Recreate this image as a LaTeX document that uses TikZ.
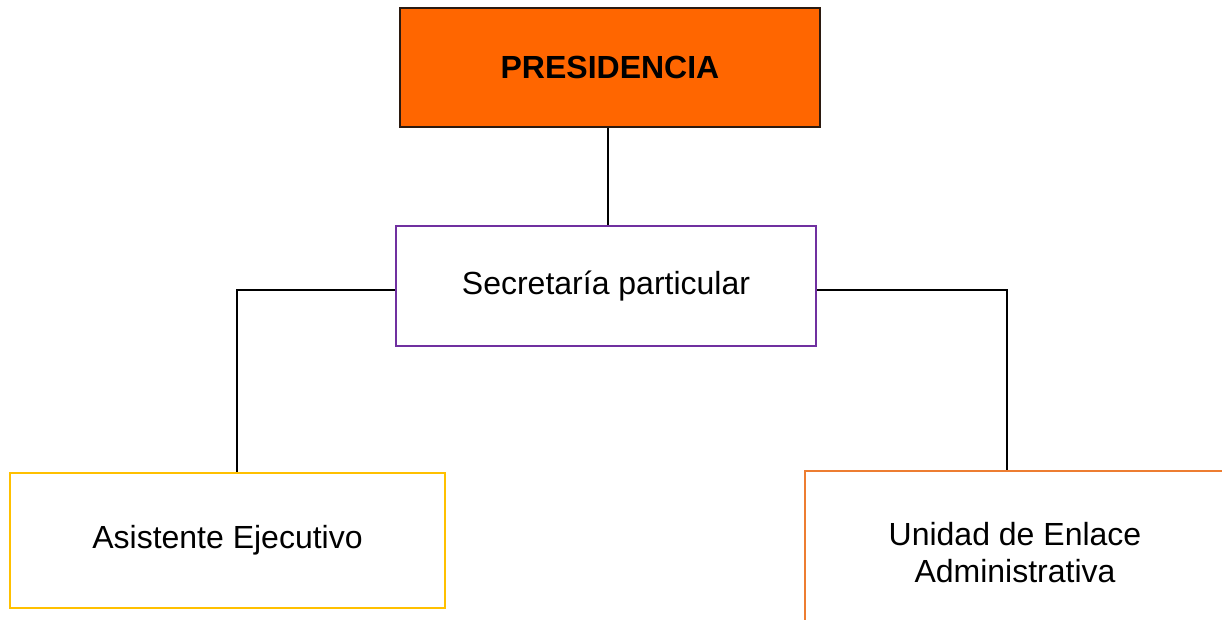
\documentclass[tikz,border=0pt]{standalone}
\usepackage{fontspec}
\setmainfont{Liberation Sans}
\usetikzlibrary{positioning}
\definecolor{presifill}{HTML}{FF6600}
\definecolor{presiline}{HTML}{2B1A10}
\definecolor{secline}{HTML}{7030A0}
\definecolor{asisline}{HTML}{FFC000}
\definecolor{unidline}{HTML}{ED7D31}

\begin{document}
\begin{tikzpicture}[x=0.5pt,y=-0.5pt,line width=1pt]
    \fontsize{16}{18.5}\selectfont
    \tikzstyle{unit}=[rectangle, draw, fill=white, line width=1pt, align=center, inner sep=0pt]
    \clip (0,0) rectangle (1222,620);
    \fill[white] (0,0) rectangle (1222,620);
    \node[unit, fill=presifill, draw=presiline, minimum width=210pt, minimum height=59.5pt, font=\bfseries] (pres) at (610,67.5) {PRESIDENCIA};
    \node[unit, draw=secline, minimum width=210pt, minimum height=60pt] (sec) at (606,286) {Secretar\'ia particular};
    \node[unit, draw=asisline, minimum width=217.5pt, minimum height=67.5pt] (asis) at (227.5,540.5) {Asistente Ejecutivo};
    \node[unit, draw=unidline, minimum width=210pt, minimum height=82pt] (unid) at (1015,553) {Unidad de Enlace\\Administrativa};
    \draw (pres.south -| 608,0) -- (sec.north -| 608,0);
    \draw ([yshift=-2pt]sec.west) -| ([xshift=4.75pt]asis.north);
    \draw ([yshift=-2pt]sec.east) -| ([xshift=-4pt]unid.north);
\end{tikzpicture}
\end{document}
